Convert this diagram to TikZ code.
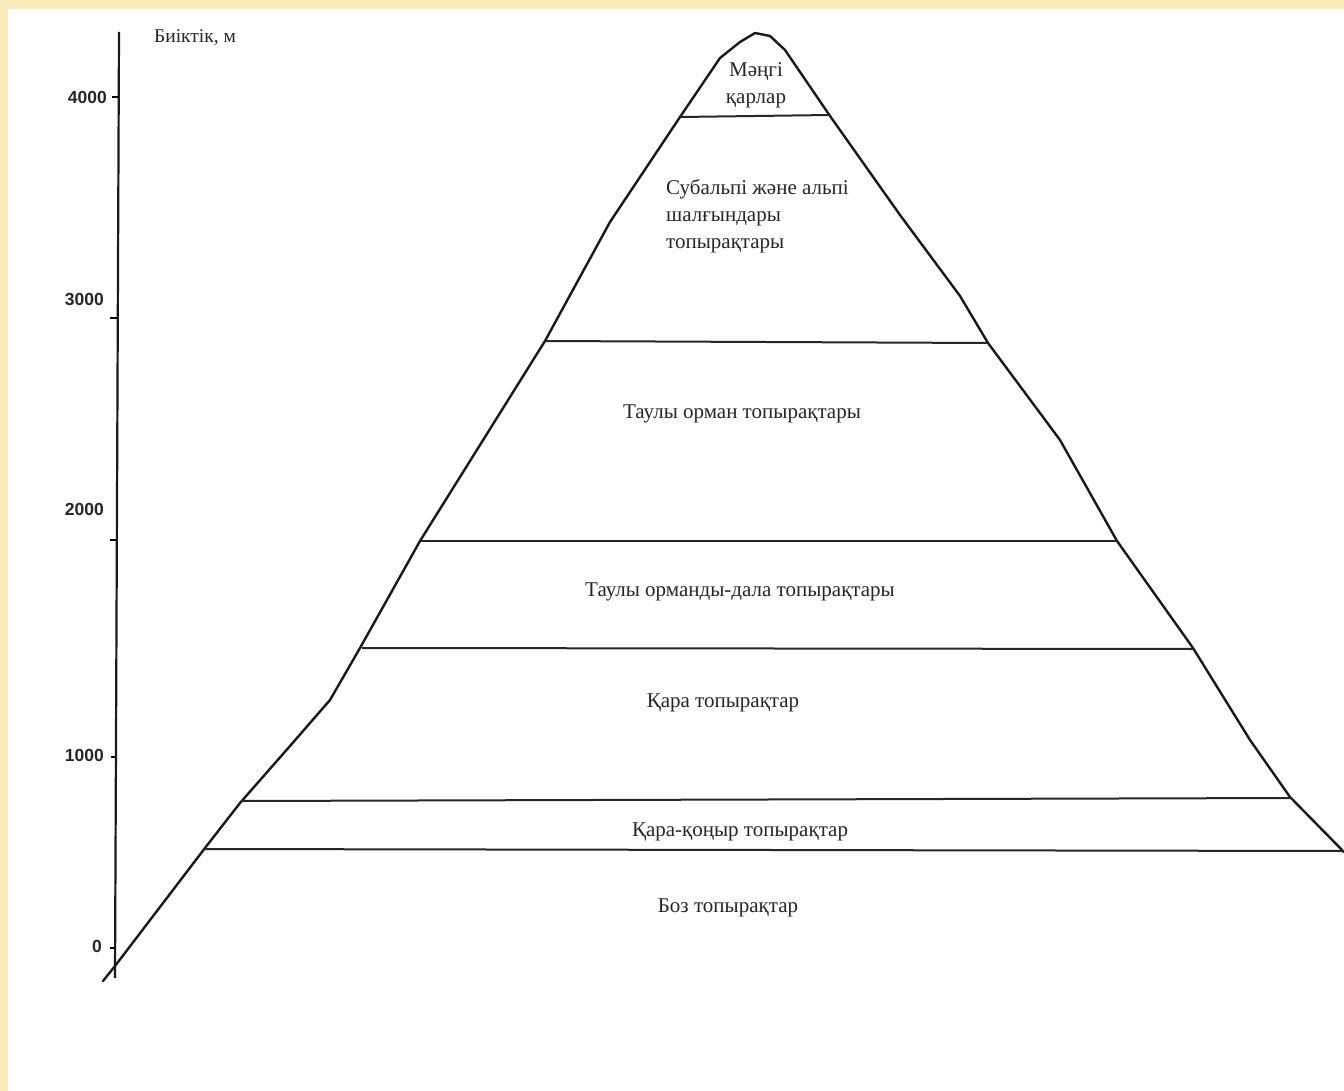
\documentclass[tikz,border=0pt]{standalone}
\usepackage{fontspec}
\setmainfont{Liberation Serif}
\newfontfamily\numfont{Liberation Sans}
\newfontfamily\serifont{Liberation Serif}
\begin{document}
\begin{tikzpicture}[x=1pt,y=-1pt,
  outline/.style={line width=2.4pt,line join=round,line cap=round,black!90},
  layer/.style={line width=2pt,black!85},
  axisline/.style={line width=2.2pt,black!90},
  lbl/.style={inner sep=0pt,text=black!85,font=\serifont\fontsize{21}{27}\selectfont},
  num/.style={inner sep=0pt,anchor=east,text=black!85,font=\numfont\bfseries\fontsize{17.5}{20}\selectfont}]
\definecolor{bordery}{HTML}{FAEBBC}
\useasboundingbox (0,0) rectangle (1344,1091);
\fill[bordery] (0,0) rectangle (1344,1091);
\fill[white] (8,9) rectangle (1344,1091);
% axis
\coordinate (axtop) at (119,32);
\coordinate (axbot) at (115,978);
\draw[axisline] (axtop) -- (axbot);
\coordinate (t4a) at (112,97); \coordinate (t4b) at (118,97);
\coordinate (t3a) at (110,318); \coordinate (t3b) at (118,318);
\coordinate (t2a) at (110,540); \coordinate (t2b) at (117,540);
\coordinate (t1a) at (111,757); \coordinate (t1b) at (116,757);
\coordinate (t0a) at (110,948); \coordinate (t0b) at (115,948);
\foreach \a/\b in {t4a/t4b,t3a/t3b,t2a/t2b,t1a/t1b,t0a/t0b} \draw[line width=1.6pt] (\a) -- (\b);
\node[num] (n4) at (107,97) {4000};
\node[num] (n3) at (104,299) {3000};
\node[num] (n2) at (104,509) {2000};
\node[num] (n1) at (104,755) {1000};
\node[num] (n0) at (102,946) {0};
\node[inner sep=0pt,anchor=west,text=black!85,font=\serifont\fontsize{19.5}{22}\selectfont] (title) at (154,38) {Биіктік, м};
% mountain outline
\draw[outline] (103,981) -- (115,966) -- (205,848) -- (240,803) -- (290,746) -- (330,700)
  -- (360,648) -- (420,541) -- (545,341) -- (610,222) -- (680,117)
  -- (720,58) -- (740,42) -- (755,33) -- (770,36) -- (785,50) -- (830,116)
  -- (900,215) -- (960,296) -- (988,343) -- (1060,440)
  -- (1117,541) -- (1193,648) -- (1250,740) -- (1290,797) -- (1344,852);
% layer boundaries
\coordinate (l1a) at (680,117); \coordinate (l1b) at (830,115);
\coordinate (l2a) at (545,341); \coordinate (l2b) at (988,343);
\coordinate (l3a) at (420,541); \coordinate (l3b) at (1117,541);
\coordinate (l4a) at (362,648); \coordinate (l4b) at (1193,649);
\coordinate (l5a) at (241,801); \coordinate (l5b) at (1292,798);
\coordinate (l6a) at (205,849); \coordinate (l6b) at (1344,851);
\foreach \a/\b in {l1a/l1b,l2a/l2b,l3a/l3b,l4a/l4b,l5a/l5b,l6a/l6b} \draw[layer] (\a) -- (\b);
% labels
\node[lbl,align=center] (snow) at (756,85) {Мәңгі\\қарлар};
\node[lbl,align=left,anchor=west] (alp) at (666,216) {Субальпі және альпі\\шалғындары\\топырақтары};
\node[lbl] (forest) at (742,414) {Таулы орман топырақтары};
\node[lbl] (forsteppe) at (740,592) {Таулы орманды-дала топырақтары};
\node[lbl] (cherno) at (723,703) {Қара топырақтар};
\node[lbl] (chest) at (740,832) {Қара-қоңыр топырақтар};
\node[lbl] (seroz) at (728,908) {Боз топырақтар};
\end{tikzpicture}
\end{document}
